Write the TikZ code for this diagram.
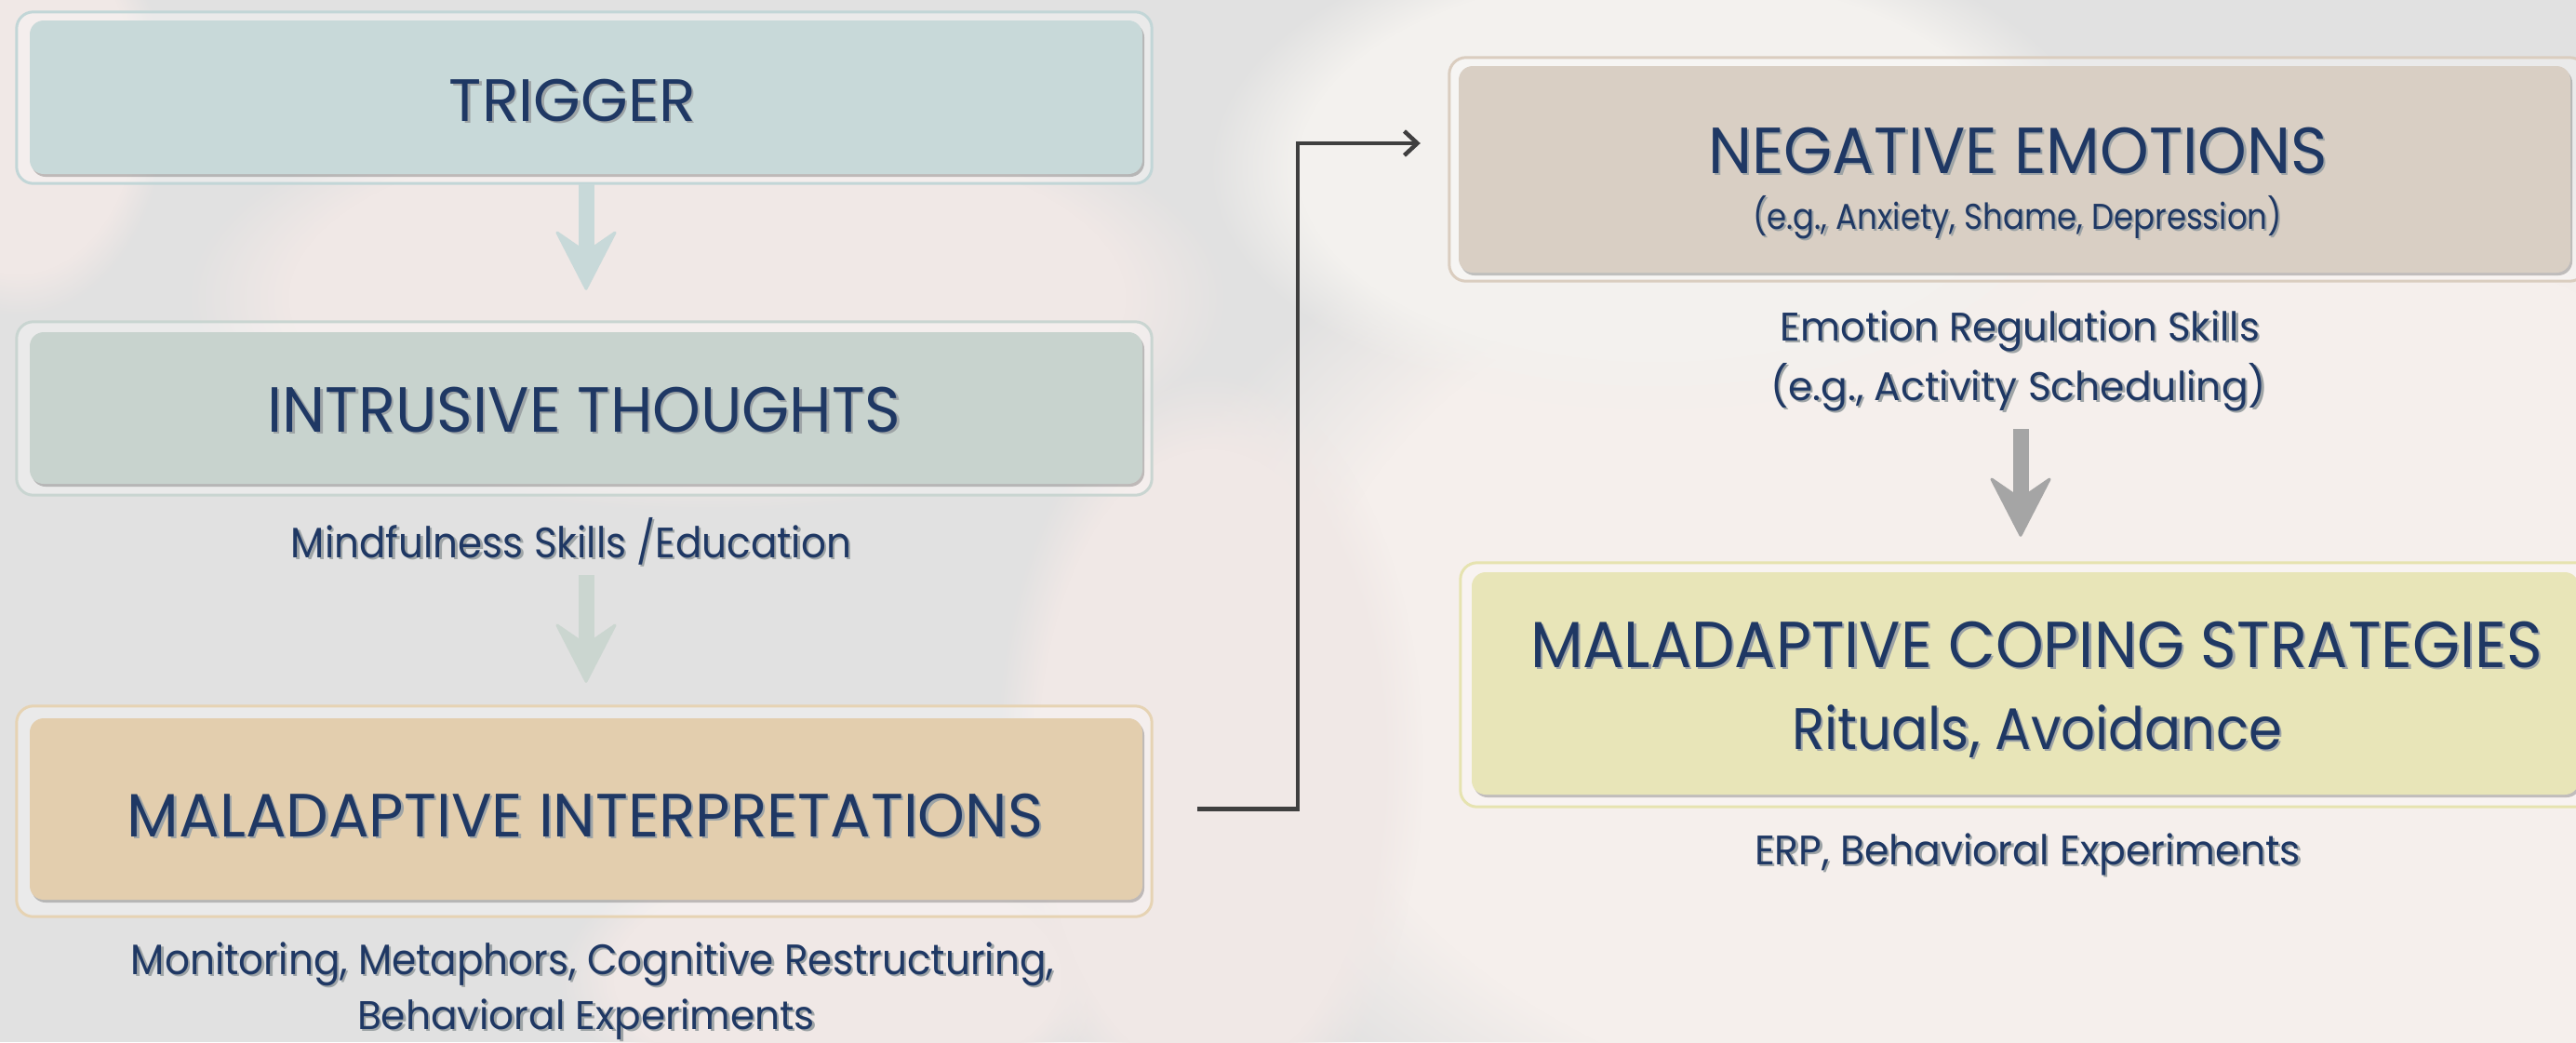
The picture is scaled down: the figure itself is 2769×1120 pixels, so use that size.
\documentclass[tikz,border=0pt]{standalone}
\usepackage{fontspec}
\setmainfont{Poppins}
\usepackage{graphicx}
\usetikzlibrary{arrows.meta,calc,shadows,fadings}

\definecolor{navy}{HTML}{1F3864}
\definecolor{shad}{HTML}{9EA4A6}
\definecolor{bgbase}{HTML}{E1E1E1}
\definecolor{warmA}{HTML}{F5EFEC}
\definecolor{warmB}{HTML}{F0E8E6}
\definecolor{warmC}{HTML}{F3F1EE}
\definecolor{trigfill}{HTML}{C8D9D9}
\definecolor{trigline}{HTML}{C2D6D7}
\definecolor{intrfill}{HTML}{C8D3CE}
\definecolor{intrline}{HTML}{C9D5D1}
\definecolor{mifill}{HTML}{E3CEAE}
\definecolor{miline}{HTML}{E6D3B3}
\definecolor{negfill}{HTML}{D9CFC4}
\definecolor{negline}{HTML}{DACDBF}
\definecolor{copefill}{HTML}{E8E5B8}
\definecolor{copeline}{HTML}{E6E3B0}
\definecolor{arrowA}{HTML}{C8D9D9}
\definecolor{arrowB}{HTML}{CBD6D0}
\definecolor{arrowC}{HTML}{A5A5A5}
\definecolor{connline}{HTML}{3F3F3F}

% text with a soft offset shadow, squeezed to a given width
\newcommand\sh[1]{\rlap{\hspace{2.5pt}\raisebox{-2.5pt}{\textcolor{shad}{#1}}}#1}
\newcommand\tx[3]{\resizebox{#1pt}{\height}{\fontsize{#2pt}{#2pt}\selectfont\sh{#3}}}

\pgfdeclarelayer{bg}
\pgfdeclarelayer{frames}
\pgfsetlayers{bg,frames,main}

\begin{document}
\begin{tikzpicture}[x=1pt,y=-1pt,
  box/.style={rectangle, rounded corners=15pt, inner sep=0pt,
    drop shadow={shadow xshift=2pt, shadow yshift=-3pt, opacity=0.22, fill=black}},
  frame/.style={rounded corners=18pt, line width=3pt, fill=white, fill opacity=0.3},
  txt/.style={anchor=base, inner sep=0pt, text=navy},
  haze/.style={path fading=circle with fuzzy edge 20 percent},
  bigarrow/.style={line width=17pt,
    -{Stealth[length=68pt, width=70pt, inset=24pt, line width=3pt, round]}},
  conn/.style={draw=connline, line width=4.5pt, line join=miter,
    -{Straight Barb[length=14pt, width=26pt]}}]

\useasboundingbox (0,0) rectangle (2769,1120);

% hazy backdrop
\begin{pgfonlayer}{bg}
  \fill[bgbase] (0,0) rectangle (2769,1120);
  \begin{scope}
    \clip (0,0) rectangle (2769,1120);
    \fill[warmA, haze] (2250,720) ellipse [x radius=1050, y radius=640];
    \fill[warmC, haze] (1780,180) ellipse [x radius=480, y radius=260];
    \fill[warmB, haze] (760,320) ellipse [x radius=560, y radius=230];
    \fill[warmB, haze] (1300,820) ellipse [x radius=230, y radius=420];
    \fill[warmB, haze] (20,110) ellipse [x radius=160, y radius=230];
    \fill[warmB, haze] (900,1050) ellipse [x radius=300, y radius=150];
  \end{scope}
\end{pgfonlayer}

% boxes
\node[box, fill=trigfill, minimum width=1196pt, minimum height=165pt] (trig) at (630,104.5) {};
\node[box, fill=intrfill, minimum width=1196pt, minimum height=163pt] (intr) at (630,438.5) {};
\node[box, fill=mifill,   minimum width=1196pt, minimum height=195pt] (mi)   at (630,869.5) {};
\node[box, fill=negfill,  minimum width=1195pt, minimum height=222pt] (neg)  at (2165.5,182) {};
\node[box, fill=copefill, minimum width=1190pt, minimum height=239pt] (cope) at (2177,734.5) {};

% outer frames
\begin{pgfonlayer}{frames}
  \draw[frame, draw=trigline] ($(trig.north west)+(-14,-9)$)  rectangle ($(trig.south east)+(10,10)$);
  \draw[frame, draw=intrline] ($(intr.north west)+(-14,-11)$) rectangle ($(intr.south east)+(10,12)$);
  \draw[frame, draw=miline]   ($(mi.north west)+(-14,-13)$)   rectangle ($(mi.south east)+(10,18)$);
  \draw[frame, draw=negline]  ($(neg.north west)+(-10,-9)$)   rectangle ($(neg.south east)+(17,9)$);
  \draw[frame, draw=copeline] ($(cope.north west)+(-12,-10)$) rectangle ($(cope.south east)+(13,13)$);
\end{pgfonlayer}

% titles
\node[txt] (trigT) at (615.5,130) {\tx{265}{64.3}{TRIGGER}};
\node[txt] (intrT) at (628,464)   {\tx{681}{68.6}{INTRUSIVE THOUGHTS}};
\node[txt] (miT)   at (629,899)   {\tx{984}{65.7}{MALADAPTIVE INTERPRETATIONS}};
\node[txt] (negT)  at (2169,186)  {\tx{666}{70}{NEGATIVE EMOTIONS}};
\node[txt] (negS)  at (2168.5,246) {\tx{569}{38.6}{(e.g., Anxiety, Shame, Depression)}};
\node[txt] (copeT) at (2189,717)  {\tx{1088}{70}{MALADAPTIVE COPING STRATEGIES}};
\node[txt] (copeS) at (2189.5,805) {\tx{527}{62.9}{Rituals, Avoidance}};

% interventions
\node[txt] (mind)  at (614,599)   {\tx{602}{45.7}{Mindfulness Skills /Education}};
\node[txt] (mon1)  at (637,1047)  {\tx{992}{45.7}{Monitoring, Metaphors, Cognitive Restructuring,}};
\node[txt] (mon2)  at (630,1106)  {\tx{492}{43}{Behavioral Experiments}};
\node[txt] (emo1)  at (2171.5,366) {\tx{515}{42.9}{Emotion Regulation Skills}};
\node[txt] (emo2)  at (2169.5,430) {\tx{533}{42.9}{(e.g., Activity Scheduling)}};
\node[txt] (erp)   at (2179.5,929) {\tx{587}{44.3}{ERP, Behavioral Experiments}};

% flow arrows
\draw[bigarrow, draw=arrowA, fill=arrowA, shorten <=11pt, shorten >=45pt] (trig.south) -- (intr.north);
\draw[bigarrow, draw=arrowB, fill=arrowB, shorten <=98pt, shorten >=38pt] (intr.south) -- (mi.north);
\coordinate (a3s) at ($(neg.south)+(6.5,0)$);
\draw[bigarrow, draw=arrowC, fill=arrowC, shorten <=168pt, shorten >=38pt] (a3s) -- (a3s |- cope.north);

% link from interpretations to emotions
\draw[conn, shorten <=59pt] (mi.east) -- ++(167,0) |- ($(neg.west)+(-41,-28)$);

\end{tikzpicture}
\end{document}
